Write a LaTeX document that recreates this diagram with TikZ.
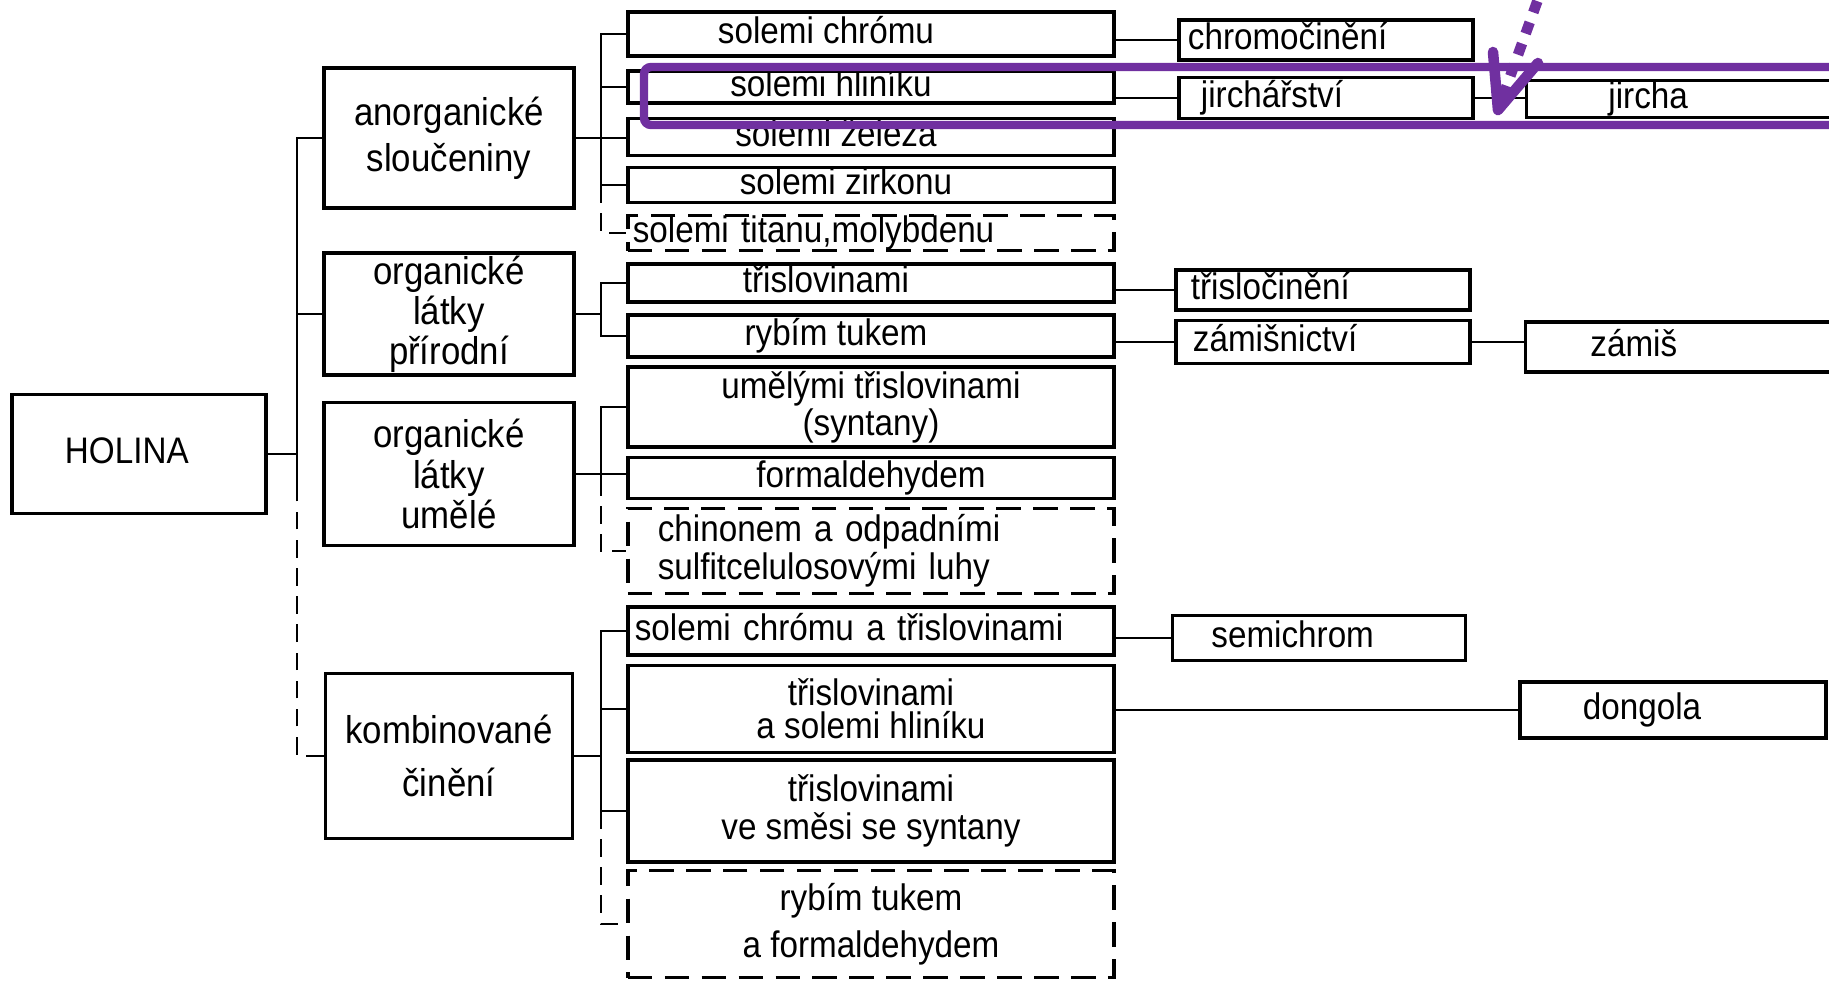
\documentclass[tikz,border=0pt]{standalone}
\usepackage{fontspec}
\setmainfont{Liberation Sans}[FakeStretch=0.9]
\usepackage{tikz}
\usetikzlibrary{arrows.meta}

\definecolor{notecol}{HTML}{7030A0}

\begin{document}
\begin{tikzpicture}[
        x=0.01cm, y=-0.01cm,
        box/.style 2 args={draw, line width=1pt, inner sep=0pt, align=center,
          minimum width=#1, minimum height=#2, font=\fontsize{10.5}{11}\selectfont},
        single/.style={text height=7pt, text depth=1.8pt},
        pad/.style 2 args={inner xsep=#1, text width=#2, align=left},
        lean/.style={execute at end node={\hspace*{#1}}},
        dbox/.style={dash pattern=on 7pt off 3.5pt},
        link/.style={line width=0.7pt},
        dlink/.style={link, dash pattern=on 5pt off 3pt},
        note/.style={draw=notecol, line width=2.4pt}
      ]
      \useasboundingbox (0,0) rectangle (1829,985);

      \node[box={2.54cm}{1.19cm}, single, pad={0.53cm}{1.48cm}] (holina) at (139,454) {HOLINA};

      \node[box={2.50cm}{1.40cm}, font=\fontsize{11}{13}\selectfont] (anorg) at (449,138) {anorganické\\sloučeniny};
      \node[box={2.50cm}{1.22cm}, font=\fontsize{11}{10}\selectfont] (prir) at (449,314) {organické\\látky\\přírodní};
      \node[box={2.50cm}{1.43cm}, font=\fontsize{11}{11.5}\selectfont] (umele) at (449,474) {organické\\látky\\umělé};
      \node[box={2.47cm}{1.65cm}, font=\fontsize{11}{15}\selectfont] (komb) at (449,756) {kombinované\\činění};

      \node[box={4.86cm}{0.44cm}, single, lean=0.9cm] (chrom) at (871,34) {solemi chrómu};
      \node[box={4.86cm}{0.32cm}, single, lean=0.8cm] (hlinik) at (871,87) {solemi hliníku};
      \node[box={4.86cm}{0.37cm}, single, lean=0.7cm] (zelezo) at (871,137) {solemi železa};
      \node[box={4.86cm}{0.35cm}, single, lean=0.5cm] (zirkon) at (871,185) {solemi zirkonu};
      \node[box={4.86cm}{0.35cm}, single, dbox, pad={0.05cm}{4.76cm}] (titan) at (871,233) {solemi titanu,molybdenu};
      \node[box={4.86cm}{0.38cm}, single, lean=0.9cm] (trisl) at (871,283) {třislovinami};
      \node[box={4.86cm}{0.42cm}, single, lean=0.7cm] (rybim) at (871,336) {rybím tukem};
      \node[box={4.86cm}{0.80cm}, font=\fontsize{10.5}{10.5}\selectfont] (syntan) at (871,407) {umělými třislovinami\\(syntany)};
      \node[box={4.86cm}{0.41cm}, single] (formal) at (871,478) {formaldehydem};
      \node[box={4.86cm}{0.85cm}, dbox, pad={0.30cm}{4.26cm}, font=\fontsize{10.5}{9.5}\selectfont] (chinon) at (871,551) {chinonem a odpadními\\sulfitcelulosovými luhy};
      \node[box={4.86cm}{0.48cm}, single, pad={0.07cm}{4.72cm}] (chromtris) at (871,631) {solemi chrómu a třislovinami};
      \node[box={4.86cm}{0.87cm}, font=\fontsize{10.5}{9.5}\selectfont] (trishlin) at (871,709) {třislovinami\\a solemi hliníku};
      \node[box={4.86cm}{1.02cm}] (trissyn) at (871,811) {třislovinami\\ve směsi se syntany};
      \node[box={4.86cm}{1.07cm}, dbox, font=\fontsize{10.5}{13.5}\selectfont] (rybform) at (871,924) {rybím tukem\\a formaldehydem};

      \node[box={2.94cm}{0.40cm}, single, pad={0.09cm}{2.76cm}] (chromocin) at (1326,40) {chromočinění};
      \node[box={2.94cm}{0.41cm}, single, pad={0.22cm}{2.50cm}] (jirchar) at (1326,98) {jirchářství};
      \node[box={2.94cm}{0.40cm}, single, pad={0.15cm}{2.64cm}] (trisloc) at (1323,290) {třisločinění};
      \node[box={2.94cm}{0.43cm}, single, pad={0.17cm}{2.60cm}] (zamisn) at (1323,342) {zámišnictví};
      \node[box={2.93cm}{0.45cm}, single, pad={0.39cm}{2.15cm}] (semichrom) at (1319,638) {semichrom};

      \node[box={3.53cm}{0.37cm}, single, pad={0.82cm}{1.89cm}] (jircha) at (1703,99) {jircha};
      \node[box={3.55cm}{0.50cm}, single, pad={0.65cm}{2.25cm}] (zamis) at (1703,347) {zámiš};
      \node[box={3.06cm}{0.56cm}, single, pad={0.63cm}{1.80cm}] (dongola) at (1673,710) {dongola};

      \coordinate (trunk) at (297,0);
      \coordinate (fork) at (601,0);

      \draw[link] (holina.east) -- (holina.east -| trunk);
      \draw[link] (anorg.west) -- (anorg.west -| trunk) -- ++(0,350);
      \draw[link] (prir.west) -- (prir.west -| trunk);
      \draw[dlink] (komb.west) -- (komb.west -| trunk) -- ++(0,-270);

      \draw[link] (anorg.east) -- (anorg.east -| zelezo.west);
      \draw[link] (chrom.west) -- (chrom.west -| fork) -- (zirkon.west -| fork) -- (zirkon.west);
      \draw[link] (hlinik.west) -- (hlinik.west -| fork);
      \draw[dlink] (zirkon.west -| fork) -- (titan.west -| fork) -- (titan.west);

      \draw[link] (prir.east) -- (prir.east -| fork);
      \draw[link] (trisl.west) -- (trisl.west -| fork) -- (rybim.west -| fork) -- (rybim.west);

      \draw[link] (umele.east) -- (umele.east -| formal.west);
      \draw[link] (syntan.west) -- (syntan.west -| fork) -- (formal.west -| fork);
      \draw[dlink] (formal.west -| fork) -- (chinon.west -| fork) -- (chinon.west);

      \draw[link] (komb.east) -- (komb.east -| fork);
      \draw[link] (chromtris.west) -- (chromtris.west -| fork) -- (trissyn.west -| fork) -- (trissyn.west);
      \draw[link] (trishlin.west) -- (trishlin.west -| fork);
      \draw[dlink] (trissyn.west -| fork) -- (rybform.west -| fork) -- (rybform.west);

      \draw[link] (chromocin.west -| chrom.east) -- (chromocin.west);
      \draw[link] (jirchar.west -| hlinik.east) -- (jirchar.west);
      \draw[link] (jirchar.east) -- (jirchar.east -| jircha.west);
      \draw[link] (trisloc.west -| trisl.east) -- (trisloc.west);
      \draw[link] (zamisn.west -| rybim.east) -- (zamisn.west);
      \draw[link] (zamisn.east) -- (zamisn.east -| zamis.west);
      \draw[link] (semichrom.west -| chromtris.east) -- (semichrom.west);
      \draw[link] (dongola.west -| trishlin.east) -- (dongola.west);

      \draw[note, rounded corners=2pt] (644,67) rectangle (1900,125);
      \coordinate (tip) at (1498,110);
      \draw[note, line width=3pt, dash pattern=on 3.4pt off 3pt] (1545,-20) -- (tip);
      \draw[note, line width=3pt, line cap=round, line join=round] (1493,52) -- (tip) -- (1538,63);
    \end{tikzpicture}
\end{document}
